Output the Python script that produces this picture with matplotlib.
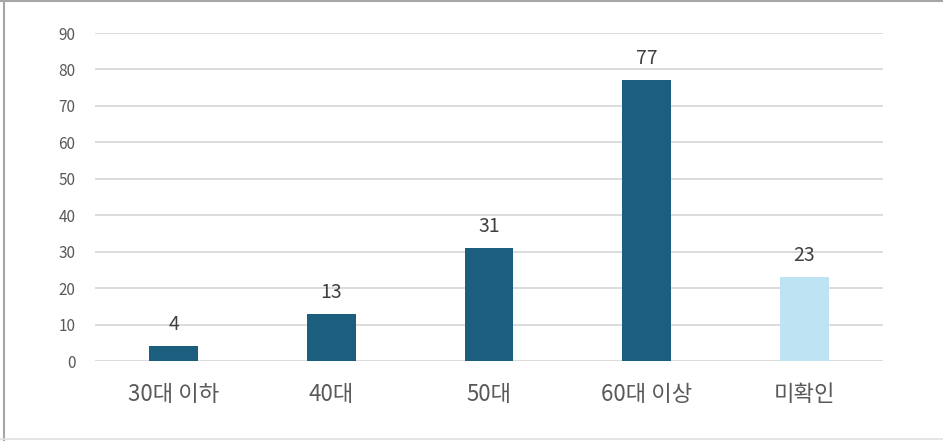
import matplotlib
matplotlib.use("Agg")
import matplotlib.pyplot as plt
from matplotlib.lines import Line2D

plt.rcParams['font.family'] = ['Noto Sans CJK KR', 'DejaVu Sans']

categories = ['30대 이하', '40대', '50대', '60대 이상', '미확인']
values = [4, 13, 31, 77, 23]
bar_colors = ['#1b5e7e', '#1b5e7e', '#1b5e7e', '#1b5e7e', '#bee3f2']
yticks = [0, 10, 20, 30, 40, 50, 60, 70, 80, 90]

fig = plt.figure(figsize=(9.43, 4.41), dpi=100)
ax = fig.add_axes([95/943, 1-361/441, 788/943, 328/441])

x = list(range(len(categories)))
bars = ax.bar(x, values, width=0.31, color=bar_colors, zorder=3)
ax.set_xlim(-0.5, len(categories)-0.5)
ax.set_ylim(0, 90)
ax.set_yticks(yticks)
ax.set_yticklabels([str(t) for t in yticks], fontsize=11, color='#595959')
ax.set_xticks(x)
ax.set_xticklabels(categories, fontsize=16, color='#595959')
ax.tick_params(axis='y', length=0, pad=14)
ax.tick_params(axis='x', length=0, pad=16)
ax.grid(axis='y', color='#d9d9d9', linewidth=1.3, zorder=0)
for s in ax.spines.values():
    s.set_visible(False)

for xi, v in zip(x, values):
    ax.annotate(str(v), (xi, v), xytext=(0, 8), textcoords='offset points',
                ha='center', va='bottom', fontsize=14, color='#404040')

# figure frame
fig.add_artist(Line2D([0, 1], [1-0.8/441, 1-0.8/441], transform=fig.transFigure, color='#a6a6a6', lw=1.5))
fig.add_artist(Line2D([3.5/943, 3.5/943], [0, 1], transform=fig.transFigure, color='#a6a6a6', lw=1.5))
fig.add_artist(Line2D([0, 1], [2/441, 2/441], transform=fig.transFigure, color='#e0e0e0', lw=1.2))

fig.savefig('out.png', dpi=100)
